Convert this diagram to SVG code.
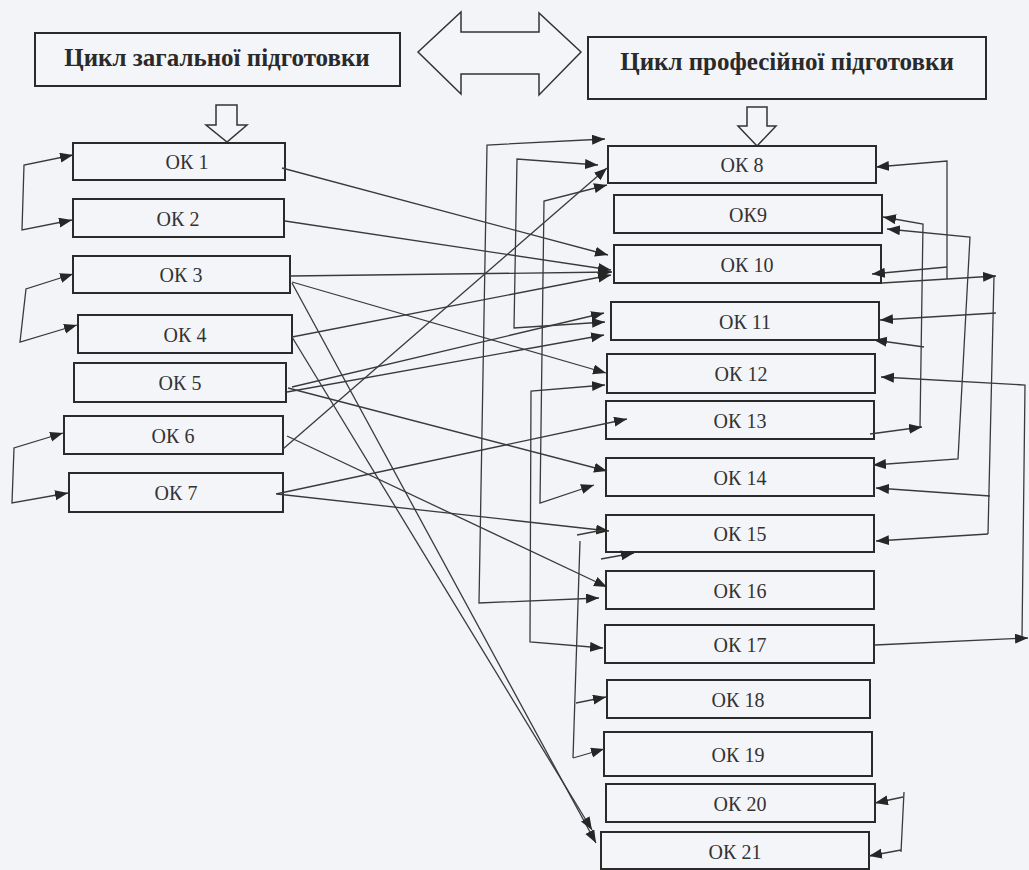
<svg xmlns="http://www.w3.org/2000/svg" width="1029" height="870" viewBox="0 0 1029 870">
<defs>
<marker id="ah" markerUnits="userSpaceOnUse" markerWidth="14" markerHeight="11" refX="13" refY="5" orient="auto-start-reverse">
<path d="M0,0 L13,5 L0,10 z" fill="#262626"/>
</marker>
</defs>
<style>
.bg{fill:#f3f4f8}
.box{fill:#f4f5f8;stroke:#2a2a2a;stroke-width:2}
.lbl{font-family:"Liberation Serif","Times New Roman",serif;font-size:20px;fill:#333;text-anchor:middle}
.hdr{font-family:"Liberation Serif","Times New Roman",serif;font-size:25px;font-weight:bold;fill:#2a2a2a;text-anchor:middle}
.big{fill:#f4f5f8;stroke:#333;stroke-width:1.5}
.c line,.c polyline,.c path{fill:none;stroke:#3a3a3a;stroke-width:1.3}
.a{marker-end:url(#ah)}
.b{marker-start:url(#ah);marker-end:url(#ah)}
.s{marker-start:url(#ah)}
</style>
<rect class="bg" x="0" y="0" width="1029" height="870"/>

<g id="hdr-general">
<rect class="box" x="35" y="33" width="365" height="53"/>
<text class="hdr" x="217" y="66">Цикл загальної підготовки</text>
</g>
<g id="hdr-prof">
<rect class="box" x="588" y="37" width="398" height="62"/>
<text class="hdr" x="787" y="70">Цикл професійної підготовки</text>
</g>
<g id="double-arrow">
<polygon class="big" points="418,52 461,12 461,32 539,32 539,13 581,52 539,95 539,74 461,74 461,94"/>
</g>
<g id="down-left">
<polygon class="big" points="216,105 237,105 237,125 247,125 227,142 206,125 216,125"/>
</g>
<g id="down-right">
<polygon class="big" points="747,107 767,107 767,126 776,126 757,146 738,126 747,126"/>
</g>

<g id="ok1"><rect class="box" x="73" y="143" width="212" height="37"/><text class="lbl" x="187" y="169">ОК 1</text></g>
<g id="ok2"><rect class="box" x="73" y="199" width="211" height="38"/><text class="lbl" x="178" y="226">ОК 2</text></g>
<g id="ok3"><rect class="box" x="73" y="256" width="217" height="37"/><text class="lbl" x="181" y="282">ОК 3</text></g>
<g id="ok4"><rect class="box" x="78" y="315" width="214" height="38"/><text class="lbl" x="185" y="342">ОК 4</text></g>
<g id="ok5"><rect class="box" x="74" y="363" width="212" height="39"/><text class="lbl" x="180" y="390">ОК 5</text></g>
<g id="ok6"><rect class="box" x="64" y="416" width="219" height="38"/><text class="lbl" x="173" y="443">ОК 6</text></g>
<g id="ok7"><rect class="box" x="69" y="473" width="214" height="39"/><text class="lbl" x="176" y="500">ОК 7</text></g>

<g id="ok8"><rect class="box" x="608" y="146" width="268" height="37"/><text class="lbl" x="742" y="172">ОК 8</text></g>
<g id="ok9"><rect class="box" x="614" y="195" width="268" height="38"/><text class="lbl" x="748" y="222">ОК9</text></g>
<g id="ok10"><rect class="box" x="614" y="245" width="267" height="38"/><text class="lbl" x="747" y="272">ОК 10</text></g>
<g id="ok11"><rect class="box" x="611" y="302" width="268" height="38"/><text class="lbl" x="745" y="329">ОК 11</text></g>
<g id="ok12"><rect class="box" x="607" y="354" width="268" height="39"/><text class="lbl" x="741" y="381">ОК 12</text></g>
<g id="ok13"><rect class="box" x="606" y="401" width="268" height="38"/><text class="lbl" x="740" y="428">ОК 13</text></g>
<g id="ok14"><rect class="box" x="606" y="458" width="268" height="38"/><text class="lbl" x="740" y="485">ОК 14</text></g>
<g id="ok15"><rect class="box" x="606" y="515" width="268" height="37"/><text class="lbl" x="740" y="541">ОК 15</text></g>
<g id="ok16"><rect class="box" x="606" y="571" width="268" height="38"/><text class="lbl" x="740" y="598">ОК 16</text></g>
<g id="ok17"><rect class="box" x="605" y="625" width="269" height="38"/><text class="lbl" x="740" y="652">ОК 17</text></g>
<g id="ok18"><rect class="box" x="607" y="680" width="263" height="38"/><text class="lbl" x="738" y="707">ОК 18</text></g>
<g id="ok19"><rect class="box" x="604" y="732" width="268" height="44"/><text class="lbl" x="738" y="762">ОК 19</text></g>
<g id="ok20"><rect class="box" x="606" y="784" width="269" height="38"/><text class="lbl" x="740" y="811">ОК 20</text></g>
<g id="ok21"><rect class="box" x="601" y="832" width="268" height="37"/><text class="lbl" x="735" y="859">ОК 21</text></g>

<g id="connectors" class="c">
<polyline class="b" points="73,155 24,165 22,230 72,220"/>
<polyline class="b" points="73,274 26,289 20,342 77,325"/>
<polyline class="b" points="63,433 14,448 12,503 68,493"/>
<line class="a" x1="282" y1="168" x2="608" y2="255"/>
<line class="a" x1="285" y1="221" x2="611" y2="270"/>
<line class="a" x1="290" y1="276" x2="612" y2="272"/>
<line class="a" x1="292" y1="337" x2="611" y2="275"/>
<line class="a" x1="292" y1="282" x2="606" y2="373"/>
<line class="a" x1="292" y1="283" x2="596" y2="843"/>
<line class="a" x1="292" y1="337" x2="592" y2="830"/>
<line class="a" x1="292" y1="387" x2="604" y2="313"/>
<line class="a" x1="287" y1="392" x2="604" y2="335"/>
<line class="a" x1="288" y1="388" x2="607" y2="471"/>
<line class="a" x1="283" y1="449" x2="607" y2="168"/>
<line class="a" x1="287" y1="436" x2="607" y2="587"/>
<line class="a" x1="276" y1="494" x2="627" y2="419"/>
<line class="a" x1="277" y1="494" x2="609" y2="531"/>
<polyline class="b" points="605,139 487,145 479,603 599,598"/>
<polyline class="b" points="598,165 517,159 514,328 605,322"/>
<polyline class="b" points="607,185 544,201 540,503 594,485"/>
<polyline class="b" points="605,385 531,391 530,642 603,648"/>
<line x1="577" y1="535" x2="603" y2="530"/>
<line x1="580" y1="541" x2="573" y2="758"/>
<line class="a" x1="576" y1="703" x2="606" y2="697"/>
<line class="a" x1="573" y1="758" x2="604" y2="749"/>
<line class="a" x1="601" y1="559" x2="634" y2="553"/>
<polyline class="s" points="876,167 947,161 947,279"/>
<line class="a" x1="947" y1="267" x2="872" y2="274"/>
<line class="a" x1="882" y1="283" x2="996" y2="276"/>
<line x1="994" y1="276" x2="988" y2="534"/>
<line class="a" x1="996" y1="313" x2="880" y2="320"/>
<line class="a" x1="990" y1="496" x2="876" y2="488"/>
<line class="a" x1="988" y1="534" x2="876" y2="541"/>
<polyline class="s" points="883,217 923,224 920,427"/>
<line class="a" x1="870" y1="434" x2="922" y2="427"/>
<line class="a" x1="924" y1="347" x2="874" y2="340"/>
<polyline class="b" points="887,229 970,237 958,459 873,465"/>
<polyline class="s" points="881,377 1025,385 1022,638"/>
<line class="a" x1="875" y1="645" x2="1028" y2="638"/>
<line x1="904" y1="792" x2="901" y2="852"/>
<line class="a" x1="903" y1="797" x2="875" y2="803"/>
<line class="a" x1="901" y1="850" x2="869" y2="856"/>
</g>
</svg>
